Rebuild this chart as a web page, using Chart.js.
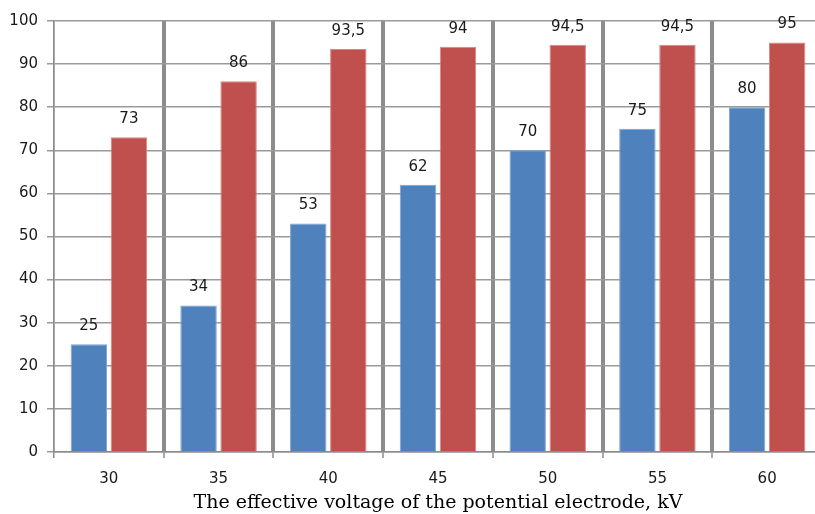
<!DOCTYPE html>
<html>
<head>
<meta charset="utf-8">
<script src="https://cdn.jsdelivr.net/npm/chart.js@4"></script>
<style>
  html, body { margin: 0; padding: 0; background: #fff; overflow: hidden; }
  #wrap { width: 815px; height: 514px; overflow: hidden; position: relative; }
  #box { width: 822px; height: 514px; position: absolute; left: 0; top: 0; }
</style>
</head>
<body>
<div id="wrap"><div id="box"><canvas id="myCanvas"></canvas></div></div>
<script>
const voltages = ["30", "35", "40", "45", "50", "55", "60"];
const blueValues = [25, 34, 53, 62, 70, 75, 80];
const redValues = [73, 86, 93.5, 94, 94.5, 94.5, 95];
const yTicks = [0, 10, 20, 30, 40, 50, 60, 70, 80, 90, 100];
const axisTitle = "The effective voltage of the potential electrode, kV";

const fmt = (v) => String(v).replace(".", ",");

// draws the value above every bar
const barLabels = {
  id: "barLabels",
  afterDatasetsDraw(chart) {
    const ctx = chart.ctx;
    ctx.save();
    ctx.font = "15px 'DejaVu Sans'";
    ctx.fillStyle = "#1a1a1a";
    ctx.textAlign = "center";
    ctx.textBaseline = "middle";
    chart.data.datasets.forEach((ds, i) => {
      chart.getDatasetMeta(i).data.forEach((bar, j) => {
        ctx.fillText(fmt(ds.data[j]), bar.x, bar.y - 18);
      });
    });
    ctx.restore();
  },
};

new Chart(document.getElementById("myCanvas"), {
  type: "bar",
  data: {
    labels: voltages,
    datasets: [
      {
        data: blueValues,
        backgroundColor: "#4F81BD",
        borderColor: "#7ea3d2",
        borderWidth: 1,
        categoryPercentage: 0.73,
        barPercentage: 0.91,
      },
      {
        data: redValues,
        backgroundColor: "#C0504D",
        borderColor: "#d98684",
        borderWidth: 1,
        categoryPercentage: 0.73,
        barPercentage: 0.91,
      },
    ],
  },
  options: {
    responsive: true,
    maintainAspectRatio: false,
    animation: false,
    layout: { padding: { top: 21, right: 0, bottom: 0, left: 0 } },
    plugins: {
      legend: { display: false },
      tooltip: { enabled: false },
    },
    scales: {
      x: {
        grid: {
          offset: true,
          color: "#8c8c8c",
          lineWidth: (c) => (c.index === 0 ? 1.5 : 4),
          tickLength: 6,
          tickWidth: 1.5,
          tickColor: "#8c8c8c",
        },
        border: { display: true, color: "#8c8c8c", width: 1.5 },
        ticks: {
          color: "#1a1a1a",
          font: { family: "'DejaVu Sans'", size: 15 },
          padding: 12,
        },
        title: {
          display: true,
          text: axisTitle,
          color: "#000",
          font: { family: "'DejaVu Serif'", size: 19 },
          padding: { top: 0, bottom: 0 },
        },
        afterFit: (scale) => { scale.height = 62; },
      },
      y: {
        min: 0,
        max: 100,
        afterBuildTicks: (scale) => {
          scale.ticks = yTicks.map((v) => ({ value: v }));
        },
        grid: {
          color: "#9a9a9a",
          lineWidth: 1.5,
          tickLength: 7,
        },
        border: { display: true, color: "#8c8c8c", width: 1.5 },
        ticks: {
          color: "#1a1a1a",
          font: { family: "'DejaVu Sans'", size: 15 },
          padding: 9,
        },
        afterFit: (scale) => { scale.width = 54; },
      },
    },
  },
  plugins: [barLabels],
});
</script>
</body>
</html>
